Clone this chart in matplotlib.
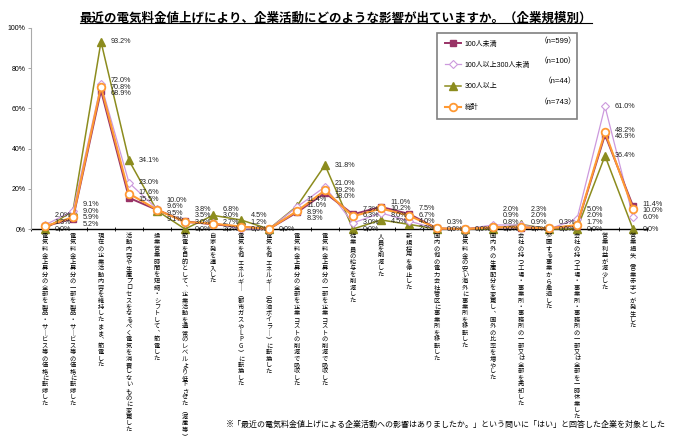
import numpy as np
import matplotlib.pyplot as plt
from matplotlib.lines import Line2D

plt.rcParams['font.family'] = ['Liberation Sans', 'Noto Sans CJK JP']

categories = [
    '電気料金上昇分の全部を製品・サービス等の価格に転嫁した',
    '電気料金上昇分の一部を製品・サービス等の価格に転嫁した',
    '現在の企業活動内容を維持したまま、節電した',
    '活動内容や生産プロセスをなるべく電気を消費しないものに変更した',
    '操業営業時間を短縮・シフトして、節電した',
    '節電を目的として、企業活動を通常のレベルより低下させた（減産等）',
    '自家発を導入した',
    '電気を他エネルギー（都市ガスやLPG）に転換した',
    '電気を他エネルギー（石油ボイラー）に転換した',
    '電気料金上昇分の全部を企業コストの削減で吸収した',
    '電気料金上昇分の一部を企業コストの削減で吸収した',
    '従業員の給与を削減した',
    '人員を削減した',
    '新規採用を停止した',
    '国内の他の電力会社管区に事業所を移転した',
    '電気料金の安い海外に事業所を移転した',
    '国内外の生産配分を変更し、国外の比率を増やした',
    '会社の持つ工場・事業所・事務所の一部又は全部を売却した',
    '参画する事業から撤退した',
    '会社の持つ工場・事業所・事務所の一部又は全部を一時休業した',
    '営業利益が減少した',
    '営業損失（営業赤字）が発生した',
]

series_names = ['100人未満', '100人以上300人未満', '300人以上', '総計']
series_n = ['（n=599）', '（n=100）', '（n=44）', '（n=743）']

under100 = [1.3, 5.2, 68.9, 15.5, 9.5, 3.8, 2.3, 1.2, 0.0, 8.3, 18.0, 7.3, 11.0, 7.5, 0.3, 0.0, 0.8, 0.7, 0.3, 1.7, 46.9, 11.4]
mid100_300 = [2.0, 9.0, 72.0, 23.0, 10.0, 3.0, 3.0, 0.0, 0.0, 11.0, 21.0, 3.0, 8.0, 4.0, 0.0, 0.0, 2.0, 2.0, 0.0, 5.0, 61.0, 6.0]
over300 = [0.0, 9.1, 93.2, 34.1, 9.1, 0.0, 6.8, 4.5, 0.0, 11.4, 31.8, 0.0, 4.5, 2.3, 0.0, 0.0, 0.0, 2.3, 0.0, 0.0, 36.4, 0.0]
total = [1.3, 5.9, 70.8, 17.6, 9.6, 3.5, 2.7, 1.2, 0.0, 8.9, 19.2, 6.3, 10.2, 6.7, 0.3, 0.0, 0.9, 0.9, 0.3, 2.0, 48.2, 10.0]

x = np.arange(len(categories))

fig = plt.figure(figsize=(6.76, 4.42), dpi=100)
ax = fig.add_axes([31/676, 1-229/442, 616/676, 201/442])

# draw order: olive at bottom, total on top
l_mid, = ax.plot(x, mid100_300, color='#CC99DD', lw=0.9, marker='D', ms=4.2,
                 mfc='white', mec='#CC99DD', mew=0.8, zorder=3, clip_on=False)
l_over, = ax.plot(x, over300, color='#8C8C1E', lw=1.1, marker='^', ms=5.5,
                  mfc='#8C8C1E', mec='#8C8C1E', zorder=2, clip_on=False)
l_under, = ax.plot(x, under100, color='#993366', lw=1.4, marker='s', ms=4,
                   mfc='#993366', mec='#993366', zorder=4, clip_on=False)
l_tot, = ax.plot(x, total, color='#FF9933', lw=1.5, marker='o', ms=5.5,
                 mfc='white', mec='#FF9933', mew=1.3, zorder=5, clip_on=False)

ax.set_xlim(-0.5, len(categories) - 0.5)
ax.set_ylim(0, 100)
ax.set_yticks(np.arange(0, 101, 20))
ax.set_yticklabels([f'{v}%' for v in range(0, 101, 20)], fontsize=5)
ax.set_xticks(x)
ax.set_xticklabels([])
ax.tick_params(axis='x', which='major', length=0)
ax.set_xticks(np.arange(-0.5, len(categories), 1), minor=True)
ax.tick_params(axis='x', which='minor', direction='inout', length=3, width=0.6)
ax.tick_params(axis='y', length=2, width=0.6, color='#999999', pad=2)
for s in ['top', 'right']:
    ax.spines[s].set_visible(False)
ax.spines['left'].set_color('#AAAAAA')
ax.spines['left'].set_linewidth(0.8)
ax.spines['bottom'].set_linewidth(1.0)
ax.spines['bottom'].set_zorder(1)

# data labels, stacked to the right of each point
gap = 3.25
for i in x:
    vals = sorted({round(v, 1) for v in (under100[i], mid100_300[i], over300[i], total[i])}, reverse=True)
    clusters = [[v] for v in vals]
    merged = True
    while merged:
        merged = False
        pos = []
        for c in clusters:
            m = np.mean(c)
            pos.append([m + (len(c) - 1) * gap / 2 - k * gap for k in range(len(c))])
        for j in range(len(clusters) - 1):
            if pos[j][-1] - pos[j + 1][0] < gap - 1e-9:
                clusters[j] = clusters[j] + clusters[j + 1]
                del clusters[j + 1]
                merged = True
                break
    flat = [p for c in pos for p in c]
    flat[-1] = max(flat[-1], 0)
    for k in range(len(flat) - 2, -1, -1):
        flat[k] = max(flat[k], flat[k + 1] + gap)
    for v, p in zip(vals, flat):
        ax.annotate(f'{v:.1f}%', (i, p), xytext=(7, 0), textcoords='offset points',
                    ha='left', va='center', fontsize=5.2, color='#222222',
                    annotation_clip=False, zorder=6)

# vertical category labels, written one character at a time
vert_map = {'ー': '｜', '（': '︵', '）': '︶', '、': '︑', '「': '﹁', '」': '﹂'}
trans = ax.get_xaxis_transform()
y0 = -7 / 201
step = 6.45 / 201
for i, lab in enumerate(categories):
    for k, ch in enumerate(lab):
        ax.text(i, y0 - k * step, vert_map.get(ch, ch), transform=trans,
                ha='center', va='center', fontsize=4.5,
                family=['Noto Sans CJK JP', 'DejaVu Sans'], clip_on=False)

# legend
leg = ax.legend([l_under, l_mid, l_over, l_tot], series_names,
                loc='upper left', mode='expand',
                bbox_to_anchor=(437/676, 1-117/442, 140/676, 84/442),
                bbox_transform=fig.transFigure, borderaxespad=0,
                fontsize=5, labelspacing=2.05, handlelength=2.3, handletextpad=0.6,
                borderpad=1.1, fancybox=False, edgecolor='#808080', framealpha=1)
leg.get_frame().set_linewidth(1.2)
for n, yy in zip(series_n, [42, 62, 82, 103]):
    fig.text(576/676, 1-yy/442, n, ha='right', va='center', fontsize=5.5)

title = fig.text(336/676, 1-18/442,
                 '最近の電気料金値上げにより、企業活動にどのような影響が出ていますか。（企業規模別）',
                 ha='center', va='center', fontsize=9, fontweight='bold',
                 family=['Noto Sans CJK JP'])

fig.text(446/676, 1-424/442,
         '※「最近の電気料金値上げによる企業活動への影響はありましたか。」という問いに「はい」と回答した企業を対象とした',
         ha='center', va='center', fontsize=5.75, family=['Noto Sans CJK JP'])

fig.canvas.draw()
bb = title.get_window_extent(fig.canvas.get_renderer()).transformed(fig.transFigure.inverted())
fig.add_artist(Line2D([bb.x0, bb.x1], [bb.y0 + 0.003, bb.y0 + 0.003], color='black', lw=0.8))

fig.savefig('out.png', dpi=100)
